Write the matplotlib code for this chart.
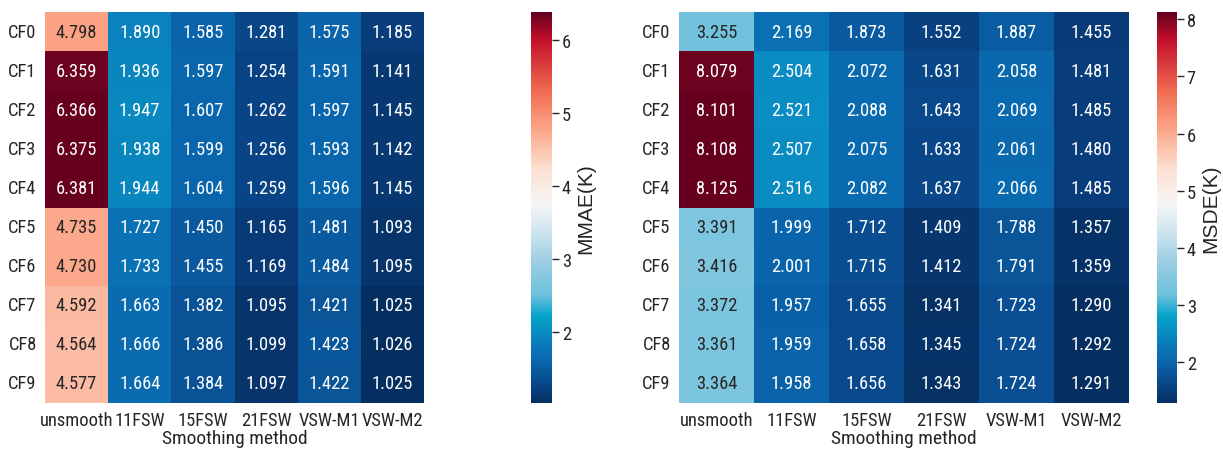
import numpy as np
import matplotlib
matplotlib.use("Agg")
import matplotlib.pyplot as plt
from matplotlib.colors import LinearSegmentedColormap
import seaborn as sns

rows = ["CF0", "CF1", "CF2", "CF3", "CF4", "CF5", "CF6", "CF7", "CF8", "CF9"]
methods = ["unsmooth", "11FSW", "15FSW", "21FSW", "VSW-M1", "VSW-M2"]

mmae = [
    [4.798, 1.890, 1.585, 1.281, 1.575, 1.185],
    [6.359, 1.936, 1.597, 1.254, 1.591, 1.141],
    [6.366, 1.947, 1.607, 1.262, 1.597, 1.145],
    [6.375, 1.938, 1.599, 1.256, 1.593, 1.142],
    [6.381, 1.944, 1.604, 1.259, 1.596, 1.145],
    [4.735, 1.727, 1.450, 1.165, 1.481, 1.093],
    [4.730, 1.733, 1.455, 1.169, 1.484, 1.095],
    [4.592, 1.663, 1.382, 1.095, 1.421, 1.025],
    [4.564, 1.666, 1.386, 1.099, 1.423, 1.026],
    [4.577, 1.664, 1.384, 1.097, 1.422, 1.025],
]
msde = [
    [3.255, 2.169, 1.873, 1.552, 1.887, 1.455],
    [8.079, 2.504, 2.072, 1.631, 2.058, 1.481],
    [8.101, 2.521, 2.088, 1.643, 2.069, 1.485],
    [8.108, 2.507, 2.075, 1.633, 2.061, 1.480],
    [8.125, 2.516, 2.082, 1.637, 2.066, 1.485],
    [3.391, 1.999, 1.712, 1.409, 1.788, 1.357],
    [3.416, 2.001, 1.715, 1.412, 1.791, 1.359],
    [3.372, 1.957, 1.655, 1.341, 1.723, 1.290],
    [3.361, 1.959, 1.658, 1.345, 1.724, 1.292],
    [3.364, 1.958, 1.656, 1.343, 1.724, 1.291],
]

cmap_stops = [
    (0.00, "#052f60"), (0.03, "#083d7c"), (0.06, "#0a4e92"), (0.10, "#0a63aa"),
    (0.14, "#0a76b8"), (0.18, "#0a8dc2"), (0.22, "#02a2c9"), (0.275, "#6cc0dc"),
    (0.37, "#a2d0e4"), (0.45, "#d5e8f1"), (0.51, "#f5f5f5"), (0.60, "#fde0d2"),
    (0.70, "#fca588"), (0.80, "#ef6a50"), (0.88, "#d6323a"), (0.93, "#c20f2c"),
    (1.00, "#67001f"),
]
cmap = LinearSegmentedColormap.from_list("custom_rdbu", cmap_stops)

sns.set_style("white")
NARROW = ['Roboto Condensed', 'Liberation Sans', 'DejaVu Sans']
REG = ['Liberation Sans', 'DejaVu Sans']
plt.rcParams['font.family'] = NARROW
plt.rcParams['text.color'] = '#262626'

W, H = 1223, 452
fig = plt.figure(figsize=(W / 100, H / 100), dpi=100)

def box(x0, y0, x1, y1):
    return [x0 / W, 1 - y1 / H, (x1 - x0) / W, (y1 - y0) / H]

panels = [
    (mmae, "MMAE(K)", box(45, 13, 424, 404), box(531, 13, 552, 404)),
    (msde, "MSDE(K)", box(679, 13, 1129, 404), box(1157, 13, 1177, 404)),
]

FS = 13.3
for data, label, hpos, cpos in panels:
    ax = fig.add_axes(hpos)
    cax = fig.add_axes(cpos)
    arr = np.array(data)
    sns.heatmap(arr, ax=ax, cbar_ax=cax, cmap=cmap, annot=True, fmt=".3f",
                annot_kws={"fontsize": FS, "family": NARROW},
                xticklabels=methods, yticklabels=rows)
    ax.set_xlabel("Smoothing method", fontsize=14, labelpad=0, family=NARROW)
    ax.set_ylabel("")
    ax.tick_params(axis="both", length=0, labelsize=FS, pad=6)
    ax.set_yticklabels(rows, rotation=0, family=NARROW)
    ax.set_xticklabels(methods, rotation=0, family=NARROW)
    cax.tick_params(labelsize=FS, length=5, width=1, pad=2)
    for t in cax.get_yticklabels():
        t.set_family(NARROW)
    cax.set_ylabel(label, fontsize=15, family=REG, labelpad=4)

fig.savefig("out.png", dpi=100)
